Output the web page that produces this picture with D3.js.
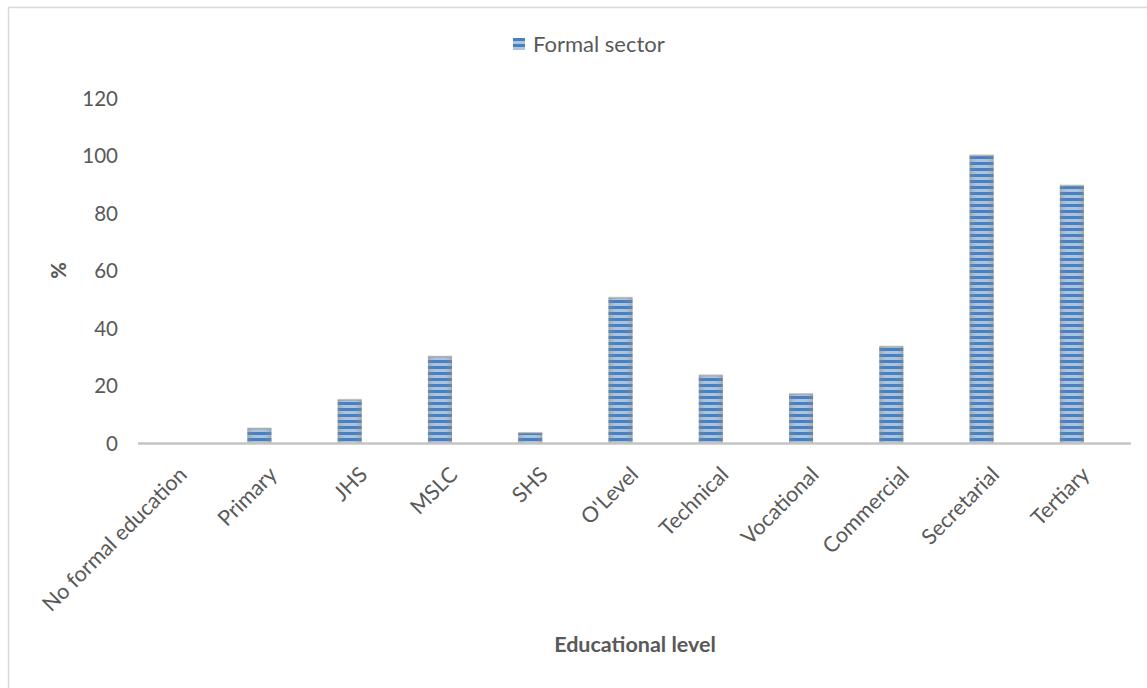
<!DOCTYPE html>
<html>
<head>
<meta charset="utf-8">
<script src="https://cdn.jsdelivr.net/npm/d3@7"></script>
<style>
  html, body { margin: 0; padding: 0; background: #fff; }
  svg { display: block; }
  text { font-family: Lato, "Open Sans", "Liberation Sans", sans-serif; fill: #595959; }
</style>
</head>
<body>
<svg id="chart" width="1147" height="688"></svg>
<script>
// Share of respondents in the formal sector, by educational level
const categories = ["No formal education", "Primary", "JHS", "MSLC", "SHS", "O'Level",
                    "Technical", "Vocational", "Commercial", "Secretarial", "Tertiary"];
const formalSector = [0, 5, 15, 30, 3.5, 50.5, 23.5, 17, 33.5, 100, 89.5];
const yTicks = [0, 20, 40, 60, 80, 100, 120];
const seriesName = "Formal sector";
const xTitle = "Educational level";
const yTitle = "%";

const svg = d3.select("#chart");
const W = 1147, H = 688;
const plot = { left: 138, right: 1131, top: 98, bottom: 443 };

// Chart area frame
svg.append("rect")
  .attr("x", 8.5).attr("y", 7.5)
  .attr("width", W + 20).attr("height", H + 20)
  .attr("fill", "#fff").attr("stroke", "#d9d9d9").attr("stroke-width", 1.5);

// Striped bar fill with soft shading on the sides
const defs = svg.append("defs");
const pat = defs.append("pattern")
  .attr("id", "stripes").attr("patternUnits", "userSpaceOnUse")
  .attr("width", 8).attr("height", 6);
pat.append("rect").attr("width", 8).attr("height", 6).attr("fill", "#aec4dc");
pat.append("rect").attr("y", 0).attr("width", 8).attr("height", 3).attr("fill", "#4580c2");

const shade = defs.append("linearGradient").attr("id", "shade")
  .attr("x1", "0%").attr("x2", "100%").attr("y1", "0%").attr("y2", "0%");
[[0, 0.5], [0.12, 0.22], [0.3, 0], [0.7, 0], [0.88, 0.22], [1, 0.5]].forEach(([o, a]) =>
  shade.append("stop").attr("offset", o).attr("stop-color", "#8c8c8c").attr("stop-opacity", a));

const x = d3.scaleBand().domain(categories).range([plot.left, plot.right]).paddingInner(0).paddingOuter(0);
const y = d3.scaleLinear().domain([0, 120]).range([plot.bottom, plot.top]);

const barW = x.step() * 0.266;
const barCenter = d => x(d) + x.bandwidth() / 2 - x.step() * 0.155;

const data = categories.map((c, i) => ({ c, v: formalSector[i] }));

const bars = svg.append("g");
bars.selectAll("rect.bar").data(data.filter(d => d.v > 0)).join("rect")
  .attr("class", "bar")
  .attr("x", d => barCenter(d.c) - barW / 2)
  .attr("y", d => y(d.v))
  .attr("width", barW)
  .attr("height", d => y(0) - y(d.v))
  .attr("fill", "url(#stripes)");
bars.selectAll("rect.shade").data(data.filter(d => d.v > 0)).join("rect")
  .attr("class", "shade")
  .attr("x", d => barCenter(d.c) - barW / 2)
  .attr("y", d => y(d.v))
  .attr("width", barW)
  .attr("height", d => y(0) - y(d.v))
  .attr("fill", "url(#shade)");
bars.selectAll("rect.cap").data(data.filter(d => d.v > 0)).join("rect")
  .attr("class", "cap")
  .attr("x", d => barCenter(d.c) - barW / 2)
  .attr("y", d => y(d.v) - 1)
  .attr("width", barW)
  .attr("height", 2)
  .attr("fill", "#9a9a9a").attr("opacity", 0.6);

// Y axis: labels only
const yAxis = d3.axisLeft(y).tickValues(yTicks).tickSize(0).tickPadding(0);
const gy = svg.append("g").attr("transform", `translate(118,0)`).call(yAxis);
gy.select(".domain").remove();
gy.selectAll("text").attr("font-size", 20.5).attr("fill", "#595959").attr("dy", "0.35em")
  .style("font-family", "Lato, 'Open Sans', sans-serif");

// X axis baseline and rotated category labels
svg.append("line")
  .attr("x1", plot.left).attr("x2", plot.right)
  .attr("y1", y(0) + 0.5).attr("y2", y(0) + 0.5)
  .attr("stroke", "#c4c4c4").attr("stroke-width", 2.5);

const xAxis = d3.axisBottom(x).tickSize(0).tickPadding(0);
const gx = svg.append("g").attr("transform", `translate(0,${y(0)})`).call(xAxis);
gx.select(".domain").remove();
gx.selectAll("text")
  .attr("font-size", 21.5).attr("fill", "#595959")
  .style("font-family", "Lato, 'Open Sans', sans-serif")
  .attr("text-anchor", "end")
  .attr("dy", 0).attr("y", 0)
  .attr("transform", "translate(5,33) rotate(-45)");

// Axis titles
svg.append("text")
  .attr("transform", `translate(66,${(plot.top + plot.bottom) / 2}) rotate(-90)`)
  .attr("text-anchor", "middle")
  .attr("font-size", 20).attr("font-weight", 900)
  .text(yTitle);
svg.append("text")
  .attr("x", 635).attr("y", 652)
  .attr("text-anchor", "middle")
  .attr("font-size", 21.5).attr("font-weight", "bold")
  .text(xTitle);

// Legend
const lg = svg.append("g").attr("transform", "translate(513,38)");
lg.append("rect").attr("width", 12).attr("height", 12).attr("fill", "url(#stripes)");
lg.append("text").attr("x", 20).attr("y", 14).attr("font-size", 22).text(seriesName);
</script>
</body>
</html>
